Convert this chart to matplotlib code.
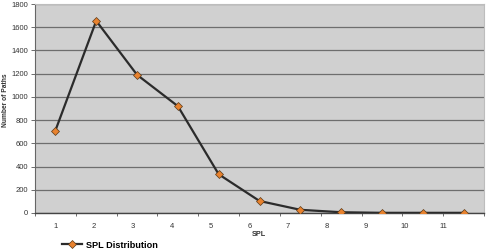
import numpy as np
import matplotlib
matplotlib.use("Agg")
import matplotlib.pyplot as plt

# SPL distribution
spl = [1, 2, 3, 4, 5, 6, 7, 8, 9, 10, 11]
paths = [710, 1655, 1190, 920, 333, 103, 27, 6, 1, 1, 1]
tick_labels = [str(s) for s in spl]

plt.rcParams['font.family'] = ['Liberation Sans', 'DejaVu Sans']

fig = plt.figure(figsize=(4.86, 2.52), dpi=100)
ax = fig.add_axes([0.072, 0.155, 0.924, 0.829])
ax.set_facecolor("#d0d0d0")

ax.plot(spl, paths, color="#2b2b2b", lw=1.6, marker="D", markersize=4.2,
        markerfacecolor="#e8822e", markeredgecolor="#5a3a1a", markeredgewidth=0.5,
        label="SPL Distribution", zorder=3)

ax.set_xlim(0.5, len(spl) + 0.5)
ax.set_ylim(0, 1800)
ax.set_yticks(np.arange(0, 1801, 200))
ax.tick_params(axis="y", labelsize=5.5, length=3, width=0.6, color="#555555",
               labelcolor="#333333", pad=2)

# category boundary ticks, labels drift a little left like the source image
ax.set_xticks(np.arange(0.5, len(spl) + 1, 1.0))
ax.set_xticklabels([])
ax.tick_params(axis="x", length=2.5, width=0.6, color="#555555")
label_pos = np.linspace(1.0, 10.5, len(spl))
for p, t in zip(label_pos, tick_labels):
    ax.text(p, -0.05, t, transform=ax.get_xaxis_transform(), ha="center", va="top",
            fontsize=5.5, color="#333333")

ax.grid(axis="y", color="#6e6e6e", lw=0.9)
ax.set_axisbelow(True)
for s in ["top", "right"]:
    ax.spines[s].set_color("#bdbdbd")
    ax.spines[s].set_linewidth(0.8)
ax.spines["left"].set_color("#666666")
ax.spines["bottom"].set_color("#444444")
ax.spines["left"].set_linewidth(0.8)
ax.spines["bottom"].set_linewidth(1.0)

fig.text(5.5 / 486, 1 - 100 / 252, "Number of Paths", rotation=90, ha="center", va="center",
         fontsize=4.8, fontweight="bold", color="#333333")
fig.text(259 / 486, 1 - 235 / 252, "SPL", ha="center", va="center",
         fontsize=5.2, fontweight="bold", color="#333333")

fig.legend(loc="center left", bbox_to_anchor=(62 / 486, 1 - 245 / 252), frameon=False,
           prop={"size": 6.6, "weight": "bold"}, handlelength=2.2, handletextpad=0.4,
           borderaxespad=0, borderpad=0)

fig.savefig("out.png", dpi=100, facecolor="white")
